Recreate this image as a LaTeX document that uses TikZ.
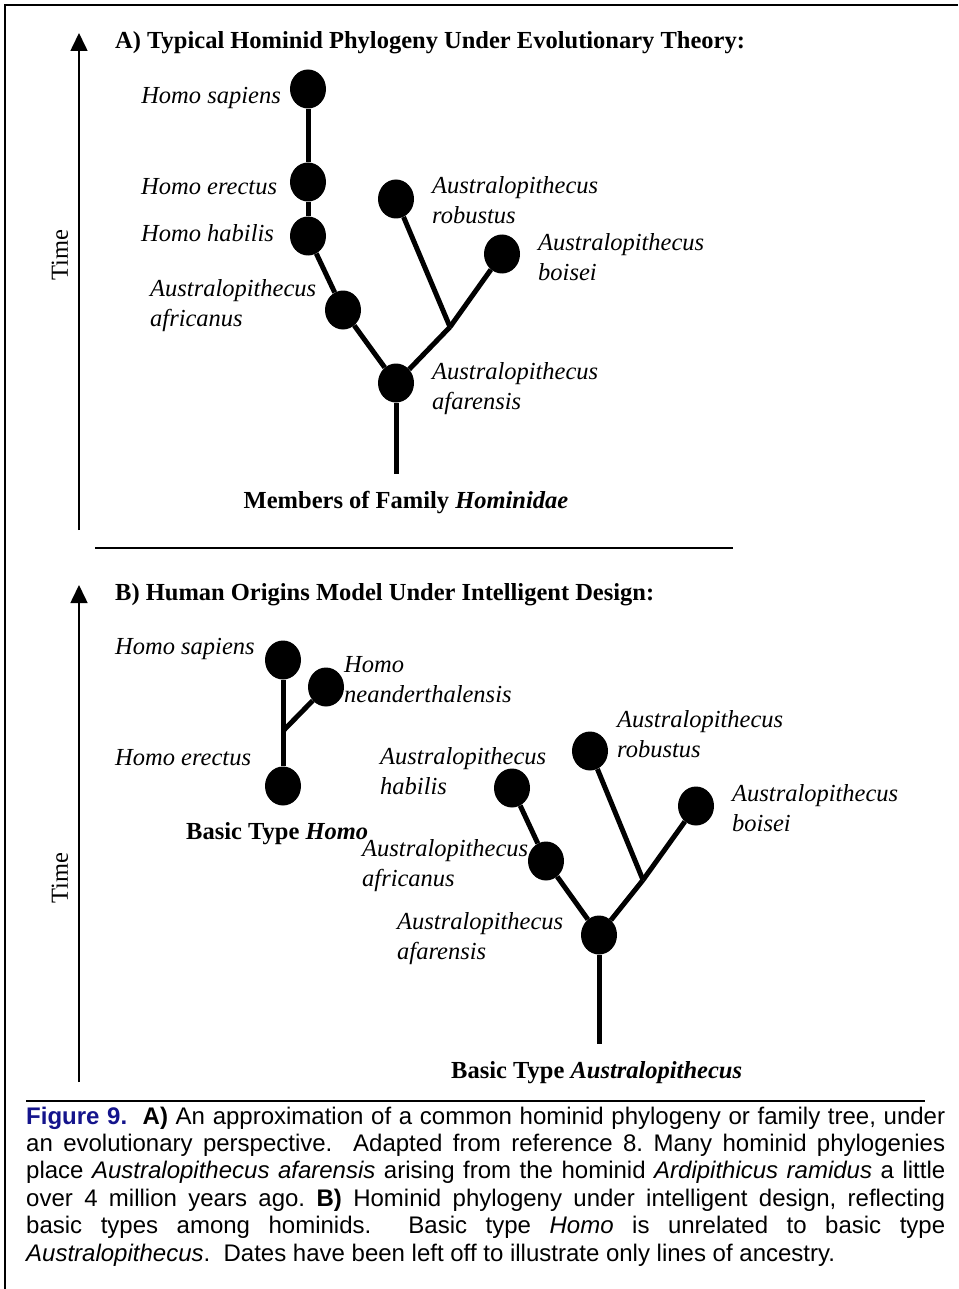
\documentclass[tikz,border=0pt]{standalone}
\usepackage{fontspec}
\setmainfont{Liberation Serif}
\setsansfont{Liberation Sans}
\usetikzlibrary{shapes.geometric,arrows.meta}
\definecolor{capblue}{RGB}{20,20,140}
\hbadness=10000
\tikzset{
  taxon/.style={ellipse, fill=black, minimum width=36pt, minimum height=39pt, inner sep=0pt},
  branch/.style={line width=5pt},
  axisline/.style={line width=1.6pt, -{Triangle[length=18pt,width=17pt]}},
  rule/.style={line width=2pt},
  lbl/.style={font=\fontsize{24.5}{30}\selectfont\itshape, inner sep=0pt, align=left},
  ttl/.style={font=\fontsize{24.5}{30}\selectfont\bfseries, inner sep=0pt},
  timelbl/.style={font=\fontsize{24.5}{30}\selectfont, inner sep=0pt, rotate=90},
}
\begin{document}
\begin{tikzpicture}[x=1pt,y=-1pt]
\useasboundingbox (0,0) rectangle (958,1289);
% frame
\draw[line width=2.5pt] (5,1289) -- (5,5) -- (958,5);

% ---------- Panel A ----------
\coordinate (axAb) at (79,530);
\coordinate (axAt) at (79,33);
\draw[axisline] (axAb) -- (axAt);
\node[timelbl] (timeA) at (60,255) {Time};
\node[ttl, anchor=base west] (titleA) at (115,49) {A) Typical Hominid Phylogeny Under Evolutionary Theory:};

\node[taxon] (hsA) at (308,89) {};
\node[taxon] (heA) at (308,182) {};
\node[taxon] (hhA) at (308,236) {};
\node[taxon] (afrA) at (343,310) {};
\node[taxon] (afaA) at (396,383) {};
\node[taxon] (robA) at (396,199) {};
\node[taxon] (boiA) at (502,254) {};
\coordinate (brA) at (450,327);
\coordinate (rootA) at (396,474);

\draw[branch] (hsA) -- (heA);
\draw[branch] (heA) -- (hhA);
\draw[branch] (hhA) -- (afrA);
\draw[branch] (afrA) -- (afaA);
\draw[branch] (afaA) -- (brA);
\draw[branch] (robA) -- (brA);
\draw[branch] (boiA) -- (brA);
\draw[branch] (afaA) -- (rootA);

% (two-line labels: base anchor = baseline of the second line)
\node[lbl, anchor=base east] (lhsA) at (281,104) {Homo sapiens};
\node[lbl, anchor=base west] (lheA) at (141,195) {Homo erectus};
\node[lbl, anchor=base west] (lhhA) at (141,242) {Homo habilis};
\node[lbl, anchor=base west] (lafrA) at (150,326) {Australopithecus\\africanus};
\node[lbl, anchor=base west] (lrobA) at (432,224) {Australopithecus\\robustus};
\node[lbl, anchor=base west] (lboiA) at (538,280) {Australopithecus\\boisei};
\node[lbl, anchor=base west] (lafaA) at (432,409) {Australopithecus\\afarensis};
\node[ttl, anchor=base] (famA) at (406,508) {Members of Family \textit{Hominidae}};

\coordinate (sepL) at (95,548);
\coordinate (sepR) at (733,548);
\draw[rule] (sepL) -- (sepR);

% ---------- Panel B ----------
\coordinate (axBb) at (79,1082);
\coordinate (axBt) at (79,585);
\draw[axisline] (axBb) -- (axBt);
\node[timelbl] (timeB) at (60,878) {Time};
\node[ttl, anchor=base west] (titleB) at (115,600) {B) Human Origins Model Under Intelligent Design:};

\node[taxon] (hsB) at (283,660) {};
\node[taxon] (hnB) at (326,687) {};
\node[taxon] (heB) at (283,786) {};
\coordinate (brH) at (283,731);
\draw[branch] (hsB) -- (heB);
\draw[branch] (hnB) -- (brH);

\node[lbl, anchor=base west] (lhsB) at (115,654) {Homo sapiens};
\node[lbl, anchor=base west] (lhnB) at (344,702) {Homo\\neanderthalensis};
\node[lbl, anchor=base west] (lheB) at (115,765) {Homo erectus};
\node[ttl, anchor=base west] (btH) at (186,839) {Basic Type \textit{Homo}};

\node[taxon] (habB) at (512,788) {};
\node[taxon] (afrB) at (546,861) {};
\node[taxon] (afaB) at (599,935) {};
\node[taxon] (robB) at (590,751) {};
\node[taxon] (boiB) at (696,806) {};
\coordinate (brB) at (643,880);
\coordinate (rootB) at (599,1044);

\draw[branch] (habB) -- (afrB);
\draw[branch] (afrB) -- (afaB);
\draw[branch] (afaB) -- (brB);
\draw[branch] (robB) -- (brB);
\draw[branch] (boiB) -- (brB);
\draw[branch] (afaB) -- (rootB);

\node[lbl, anchor=base west] (lrobB) at (617,757) {Australopithecus\\robustus};
\node[lbl, anchor=base west] (lhabB) at (380,794) {Australopithecus\\habilis};
\node[lbl, anchor=base west] (lboiB) at (732,831) {Australopithecus\\boisei};
\node[lbl, anchor=base west] (lafrB) at (362,886) {Australopithecus\\africanus};
\node[lbl, anchor=base west] (lafaB) at (397,959) {Australopithecus\\afarensis};
\node[ttl, anchor=base west] (btA) at (451,1078) {Basic Type \textit{Australopithecus}};

% ---------- Caption ----------
\coordinate (capL) at (26,1101);
\coordinate (capR) at (925,1101);
\draw[rule] (capL) -- (capR);
\node[anchor=base west, inner sep=0pt, text width=919pt, align=justify,
      font=\sffamily\fontsize{24}{27.4}\selectfont\frenchspacing] (cap) at (26,1124)
{{\color{capblue}\textbf{Figure 9.}}\ \ \textbf{A)} An approximation of a common hominid phylogeny or family tree, under\linebreak
an evolutionary perspective.\ \ Adapted from reference 8. Many hominid phylogenies\linebreak
place \textit{Australopithecus afarensis} arising from the hominid \textit{Ardipithicus ramidus} a little\linebreak
over 4 million years ago. \textbf{B)} Hominid phylogeny under intelligent design, reflecting\linebreak
basic types among hominids.\ \ Basic type \textit{Homo} is unrelated to basic type\linebreak
\textit{Australopithecus}.\ \ Dates have been left off to illustrate only lines of ancestry.};
\end{tikzpicture}
\end{document}
